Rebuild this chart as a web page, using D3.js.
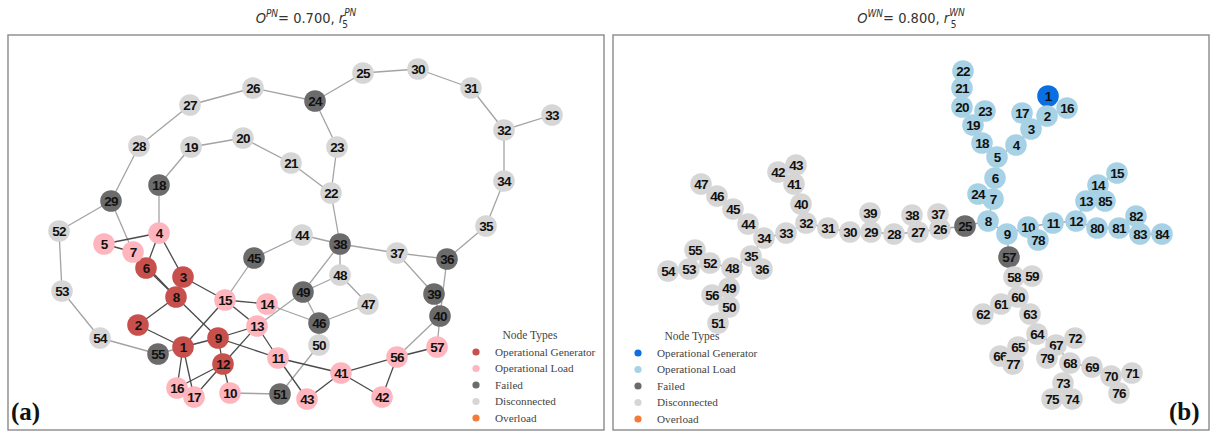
<!DOCTYPE html>
<html>
<head>
<meta charset="utf-8">
<script src="https://cdn.jsdelivr.net/npm/d3@7/dist/d3.min.js"></script>
<style>
  html, body { margin: 0; padding: 0; background: #fff; }
  svg { display: block; }
</style>
</head>
<body>
<svg id="chart" width="1210" height="431"></svg>
<script>
// ---- Power network (PN): node id, layout x, layout y, state ----
const pnNodes = [
  [1,175,312,"gen"],[2,130,290,"gen"],[3,175,242,"gen"],[4,151,198,"load"],[5,96,209,"load"],
  [6,138,233,"gen"],[7,125,217,"load"],[8,168,262,"gen"],[9,210,303,"gen"],[10,222,358,"load"],
  [11,270,323,"load"],[12,215,329,"gen"],[13,249,291,"load"],[14,259,269,"load"],[15,217,265,"load"],
  [16,169,353,"load"],[17,186,362,"load"],[18,151,150,"fail"],[19,183,112,"disc"],[20,235,103,"disc"],
  [21,283,128,"disc"],[22,323,158,"disc"],[23,329,112,"disc"],[24,307,66,"fail"],[25,355,38,"disc"],
  [26,245,53,"disc"],[27,182,70,"disc"],[28,131,111,"disc"],[29,103,166,"fail"],[30,410,34,"disc"],
  [31,463,53,"disc"],[32,496,95,"disc"],[33,544,80,"disc"],[34,496,146,"disc"],[35,478,191,"disc"],
  [36,439,224,"fail"],[37,389,218,"disc"],[38,332,209,"fail"],[39,426,259,"fail"],[40,432,281,"fail"],
  [41,333,338,"load"],[42,374,362,"load"],[43,299,364,"load"],[44,294,200,"disc"],[45,246,223,"fail"],
  [46,311,288,"fail"],[47,360,269,"disc"],[48,332,240,"disc"],[49,295,257,"fail"],[50,311,310,"disc"],
  [51,272,359,"fail"],[52,51,196,"disc"],[53,54,256,"disc"],[54,92,303,"disc"],[55,150,319,"fail"],
  [56,389,322,"load"],[57,429,312,"load"]
];
const pnEdges = [
  [29,28],[28,27],[27,26],[26,24],[24,25],[25,30],[30,31],[31,32],[32,33],[32,34],[34,35],[35,36],
  [24,23],[23,22],[22,21],[21,20],[20,19],[19,18],[18,4],[29,52],[29,7],[52,53],[53,54],[54,55],[55,1],
  [4,5],[5,7],[7,6],[4,6],[4,3],[6,8],[7,8],[3,8],[2,8],[3,15],[8,9],[2,1],[1,15],[1,9],[1,16],[1,17],
  [9,13],[9,12],[9,11],[15,14],[15,13],[15,45],[45,44],[44,38],[14,46],[13,49],[49,38],[49,48],
  [48,38],[48,47],[47,46],[49,46],[13,11],[13,12],[12,16],[12,17],[12,10],[10,51],[51,50],[50,46],
  [11,43],[11,41],[41,43],[41,56],[41,42],[42,56],[56,57],[56,40],[57,40],[40,39],[40,36],[39,37],
  [37,36],[37,38],[38,22]
];

// ---- Water network (WN): node id, layout x, layout y, state ----
const wnNodes = [
  [1,435,61,"gen"],[2,434,81,"load"],[3,418,94,"load"],[4,403,110,"load"],[5,384,122,"load"],
  [6,382,143,"load"],[7,380,164,"load"],[8,375,186,"load"],[9,394,199,"load"],[10,415,192,"load"],
  [11,440,188,"load"],[12,463,186,"load"],[13,473,166,"load"],[14,485,150,"load"],[15,504,138,"load"],
  [16,454,73,"load"],[17,409,78,"load"],[18,369,108,"load"],[19,360,90,"load"],[20,349,72,"load"],
  [21,349,53,"load"],[22,350,36,"load"],[23,372,76,"load"],[24,365,159,"load"],[25,352,191,"fail"],
  [26,327,194,"disc"],[27,305,197,"disc"],[28,281,199,"disc"],[29,258,197,"disc"],[30,237,197,"disc"],
  [31,215,193,"disc"],[32,193,188,"disc"],[33,173,198,"disc"],[34,151,203,"disc"],[35,138,221,"disc"],
  [36,149,234,"disc"],[37,325,179,"disc"],[38,299,180,"disc"],[39,257,178,"disc"],[40,188,169,"disc"],
  [41,181,149,"disc"],[42,165,137,"disc"],[43,183,130,"disc"],[44,135,189,"disc"],[45,120,174,"disc"],
  [46,104,161,"disc"],[47,88,149,"disc"],[48,119,233,"disc"],[49,116,253,"disc"],[50,116,272,"disc"],
  [51,105,288,"disc"],[52,97,228,"disc"],[53,76,234,"disc"],[54,55,236,"disc"],[55,82,215,"disc"],
  [56,99,260,"disc"],[57,396,222,"fail"],[58,401,242,"disc"],[59,419,241,"disc"],[60,405,262,"disc"],
  [61,388,269,"disc"],[62,370,279,"disc"],[63,417,279,"disc"],[64,424,299,"disc"],[65,405,312,"disc"],
  [66,387,321,"disc"],[67,443,310,"disc"],[68,457,328,"disc"],[69,479,332,"disc"],[70,498,341,"disc"],
  [71,519,338,"disc"],[72,462,303,"disc"],[73,450,348,"disc"],[74,459,364,"disc"],[75,439,364,"disc"],
  [76,506,358,"disc"],[77,400,329,"disc"],[78,425,205,"load"],[79,434,323,"disc"],[80,484,193,"load"],
  [81,506,193,"load"],[82,523,181,"load"],[83,527,199,"load"],[84,549,199,"load"],[85,492,166,"load"]
];
const wnEdges = [
  [1,2],[2,16],[2,3],[3,17],[3,4],[4,5],[5,18],[18,19],[19,20],[20,21],[21,22],[19,23],[5,6],[6,7],
  [7,24],[7,8],[8,25],[8,9],[9,10],[10,78],[10,11],[11,12],[12,13],[13,14],[14,15],[13,85],[12,80],
  [80,81],[81,82],[81,83],[83,84],[9,57],[57,58],[58,59],[58,60],[60,61],[61,62],[60,63],[63,64],
  [64,65],[65,66],[65,77],[64,67],[67,72],[67,79],[67,68],[68,69],[69,70],[70,71],[70,76],[68,73],
  [73,74],[73,75],[25,26],[26,37],[26,27],[27,38],[27,28],[28,29],[29,39],[29,30],[30,31],[31,32],
  [32,40],[40,41],[41,42],[41,43],[32,33],[33,34],[34,44],[44,45],[45,46],[46,47],[34,35],[35,36],
  [35,48],[48,52],[52,53],[53,54],[52,55],[48,49],[49,50],[49,56],[50,51]
];

// ---- Legend entries and state keys ----
const legendStates = ["gen", "load", "fail", "disc", "over"];
const legendLabels = ["Operational Generator", "Operational Load", "Failed", "Disconnected", "Overload"];

const pnColors = { gen: "#c8504c", load: "#ffb5be", fail: "#6b6b6b", disc: "#d6d6d6", over: "#f47a3a" };
const wnColors = { gen: "#0a6fe0", load: "#a7d2e6", fail: "#6b6b6b", disc: "#d6d6d6", over: "#f47a3a" };

const svg = d3.select("#chart");

function drawPanel(opts) {
  const { left, top, width, height, nodes, edges, colors, title, tag, tagX, legendX, legendY, darkEdges } = opts;
  const x = d3.scaleLinear().domain([0, width]).range([left, left + width]);
  const y = d3.scaleLinear().domain([0, height]).range([top, top + height]);

  const g = svg.append("g");
  g.append("rect")
    .attr("x", left).attr("y", top).attr("width", width).attr("height", height)
    .attr("fill", "none").attr("stroke", "#8a8a8a").attr("stroke-width", 1.4);

  const byId = new Map(nodes.map(d => [d[0], d]));
  const active = s => s === "gen" || s === "load";

  g.append("g").selectAll("line").data(edges).join("line")
    .attr("x1", d => x(byId.get(d[0])[1])).attr("y1", d => y(byId.get(d[0])[2]))
    .attr("x2", d => x(byId.get(d[1])[1])).attr("y2", d => y(byId.get(d[1])[2]))
    .attr("stroke", d => (darkEdges && active(byId.get(d[0])[3]) && active(byId.get(d[1])[3])) ? "#4a4a4a" : "#a3a3a3")
    .attr("stroke-width", 1.3);

  const ng = g.append("g").selectAll("g").data(nodes).join("g")
    .attr("transform", d => `translate(${x(d[1])},${y(d[2])})`);
  ng.append("circle").attr("r", 10.8).attr("fill", d => colors[d[3]]);
  ng.append("text")
    .attr("text-anchor", "middle").attr("dy", "0.37em")
    .attr("font-family", "Liberation Sans, Arial, sans-serif")
    .attr("font-weight", "bold").attr("font-size", 13.5).attr("letter-spacing", -0.8)
    .attr("fill", "#111")
    .text(d => d[0]);

  // legend
  const lg = g.append("g");
  lg.append("text")
    .attr("x", x(legendX + 54)).attr("y", y(legendY - 13))
    .attr("text-anchor", "middle")
    .attr("font-family", "Liberation Serif, Times New Roman, serif")
    .attr("font-size", 11.5).attr("fill", "#444")
    .text("Node Types");
  const items = lg.selectAll("g.item").data(legendStates).join("g")
    .attr("transform", (d, i) => `translate(${x(legendX)},${y(legendY + i * 16.5)})`);
  items.append("circle").attr("r", 3.6).attr("fill", d => colors[d]);
  items.append("text")
    .attr("x", 19).attr("dy", "0.35em")
    .attr("font-family", "Liberation Serif, Times New Roman, serif")
    .attr("font-size", 11.2).attr("fill", "#444")
    .text((d, i) => legendLabels[i]);

  // title
  const t = svg.append("text")
    .attr("x", x(width / 2)).attr("y", 23)
    .attr("text-anchor", "middle")
    .attr("font-family", "DejaVu Sans Condensed, DejaVu Sans, sans-serif")
    .attr("font-stretch", "condensed")
    .attr("font-size", 14.5).attr("fill", "#333");
  t.append("tspan").attr("font-style", "italic").text("O");
  t.append("tspan").attr("font-style", "italic").attr("font-size", 10).attr("dy", -6).text(title.sup);
  t.append("tspan").attr("dy", 6).text("= " + title.value + ",  ");
  t.append("tspan").attr("font-style", "italic").text("r");
  t.append("tspan").attr("font-style", "italic").attr("font-size", 10).attr("dy", -7).text(title.sup);
  t.append("tspan").attr("font-size", 10).attr("dx", -14).attr("dy", 12).text("5");

  // panel tag
  svg.append("text")
    .attr("x", x(tagX)).attr("y", y(height - 10))
    .attr("font-family", "Liberation Serif, Times New Roman, serif")
    .attr("font-weight", "bold").attr("font-size", 25).attr("fill", "#111")
    .text(tag);
}

drawPanel({
  left: 8, top: 35, width: 596, height: 395,
  nodes: pnNodes, edges: pnEdges, colors: pnColors,
  title: { sup: "PN", value: "0.700" }, tag: "(a)", tagX: 3,
  legendX: 468, legendY: 317, darkEdges: true
});
drawPanel({
  left: 613, top: 35, width: 596, height: 395,
  nodes: wnNodes, edges: wnEdges, colors: wnColors,
  title: { sup: "WN", value: "0.800" }, tag: "(b)", tagX: 556,
  legendX: 25, legendY: 318, darkEdges: false
});
</script>
</body>
</html>
